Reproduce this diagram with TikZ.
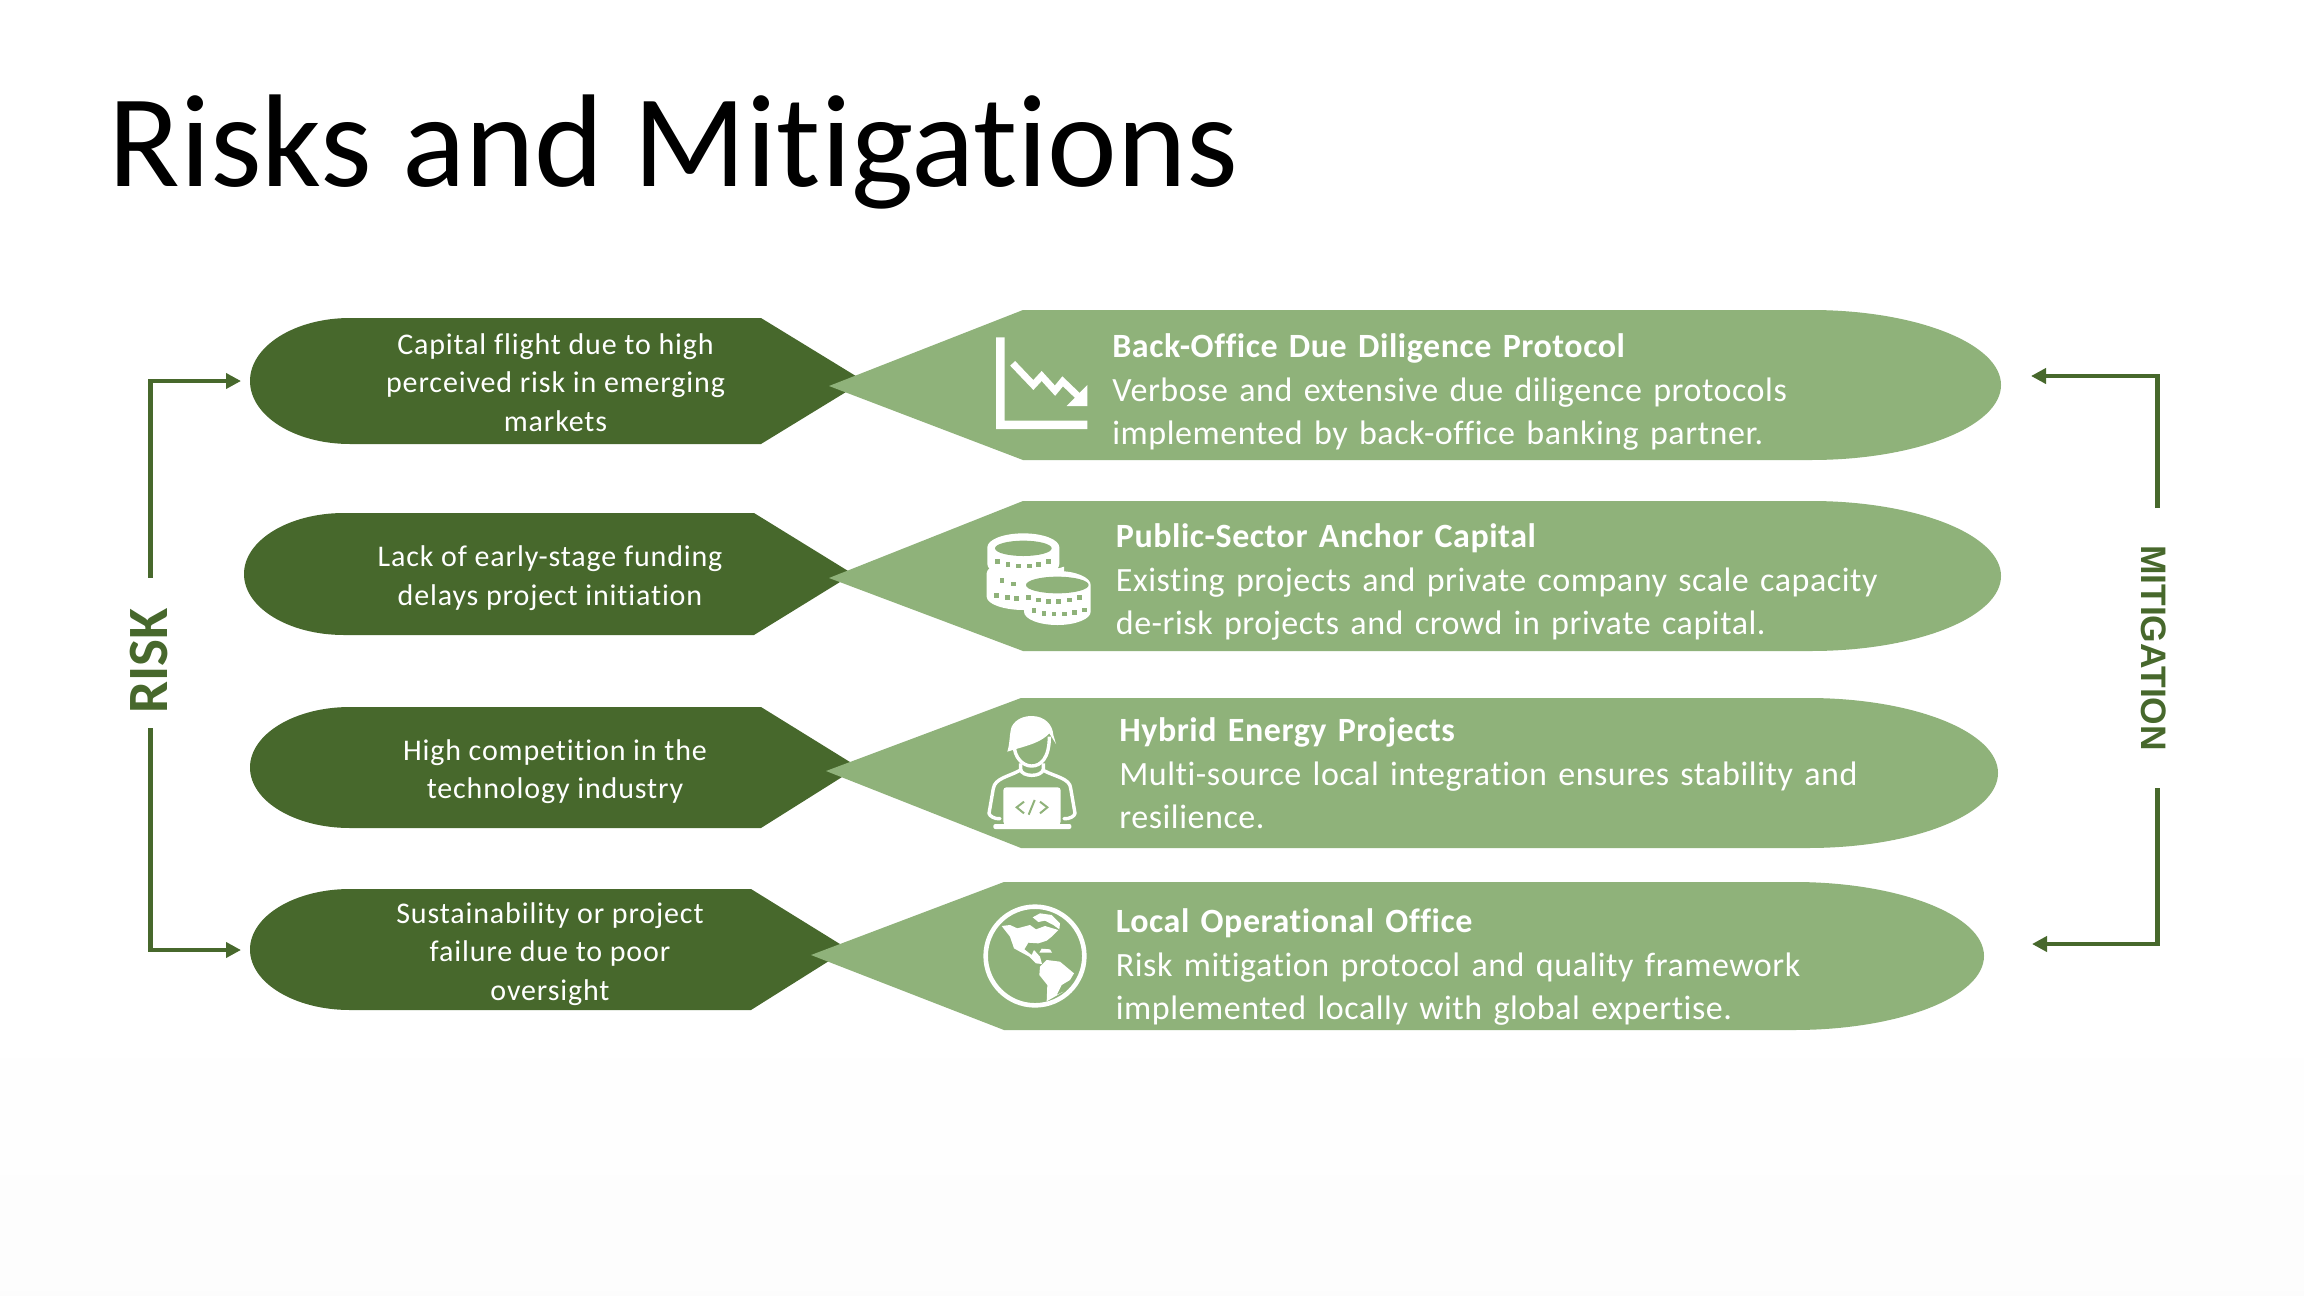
\documentclass[tikz,border=0pt]{standalone}
\usepackage{fontspec}
\setmainfont[Ligatures=NoCommon]{Carlito}
\newfontfamily\bodyf[LetterSpace=1.6,Ligatures=NoCommon]{Carlito}
\newfontfamily\darkf[LetterSpace=2.9,Ligatures=NoCommon]{Carlito}
\newfontfamily\mitf{Liberation Sans}
\usetikzlibrary{arrows.meta,calc}
\definecolor{darkg}{HTML}{47682C}
\definecolor{lightg}{HTML}{8FB27A}
\tikzset{
  darkshape/.style={fill=darkg,draw=none},
  lightshape/.style={fill=lightg,draw=none},
  risktext/.style={text=white,align=center,font=\darkf\fontsize{15}{19.15}\selectfont,inner sep=0pt},
  mittext/.style={text=white,align=left,anchor=north west,font=\bodyf\fontsize{17}{21.75}\selectfont,inner sep=0pt,text width=480pt},
  conn/.style={draw=darkg,line width=2.25pt,line join=miter,-{Triangle[length=7.5pt,width=7.5pt]}},
  iconw/.style={fill=white,draw=none},
  icong/.style={fill=lightg,draw=none},
}
% left, top, bottom, corner, tipx, tipy
\newcommand{\darkpill}[6]{%
  \path[darkshape] ({#1+100},#2) -- (#4,#2) -- (#5,#6) -- (#4,#3) -- ({#1+100},#3)
    arc[start angle=90,end angle=270,x radius=100,y radius={(#3-#2)/2}] -- cycle;}
% tipx,tipy,corner,top,bottom,right
\newcommand{\lightpill}[6]{%
  \path[lightshape] (#1,#2) -- (#3,#4) -- ({#6-190},#4)
    arc[start angle=-90,end angle=90,x radius=190,y radius={(#5-#4)/2}] -- (#3,#5) -- cycle;}
\begin{document}
\begin{tikzpicture}[x=0.5pt,y=-0.5pt]
\useasboundingbox (0,0) rectangle (2304,1296);
\fill[white] (0,0) rectangle (2304,1296);
\shade[top color=white,bottom color=black!1!white,draw=none] (0,1000) rectangle (2304,1296);

\node[anchor=base west,inner sep=0pt,font=\fontsize{66}{78}\selectfont,text=black] (title) at (108,186) {Risks and Mitigations};

% dark shapes
\darkpill{250}{318}{444}{761}{864}{381}
\darkpill{244}{513}{635}{754}{853}{574}
\darkpill{250}{707}{828}{761}{858}{767}
\darkpill{250}{889}{1010}{751}{848}{949}
% light shapes
\lightpill{829}{386}{1023}{310}{460}{2001}
\lightpill{829}{578}{1023}{501}{651}{2001}
\lightpill{826}{771}{1021}{698}{848}{1998}
\lightpill{811}{955}{1004}{882}{1030}{1984}

% risk text
\node[risktext] (r1) at (555.5,382.5) {Capital flight due to high\\perceived risk in emerging\\markets};
\node[risktext] (r2) at (550,578) {Lack of early-stage funding\\delays project initiation};
\node[risktext] (r3) at (555,772) {High competition in the\\technology industry};
\node[risktext] (r4) at (550,954) {Sustainability or project\\failure due to poor\\oversight};

% mitigation text
\node[mittext] (m1) at (1112,333.5) {\textbf{Back-Office Due Diligence Protocol}\\Verbose and extensive due diligence protocols\\implemented by back-office banking partner.};
\node[mittext] (m2) at (1115.5,523.5) {\textbf{Public-Sector Anchor Capital}\\Existing projects and private company scale capacity\\de-risk projects and crowd in private capital.};
\node[mittext] (m3) at (1119,717.5) {\textbf{Hybrid Energy Projects}\\Multi-source local integration ensures stability and\\resilience.};
\node[mittext] (m4) at (1115.5,908.5) {\textbf{Local Operational Office}\\Risk mitigation protocol and quality framework\\implemented locally with global expertise.};

% side labels
\node[rotate=90,inner sep=0pt,text=darkg,font=\fontsize{28.5}{30}\selectfont\bfseries] (risk) at (149.5,661) {RISK};
\node[rotate=-90,inner sep=0pt,text=darkg,font=\mitf\fontsize{17.7}{20}\selectfont\bfseries] (mitigation) at (2154,648) {MITIGATION};

\coordinate (rt) at (150.7,577.6);
\coordinate (rb) at (150.7,728);
\coordinate (rtopc) at (150.7,381);
\coordinate (rbotc) at (150.7,950);
\coordinate (rtoptip) at (241,381);
\coordinate (rbottip) at (241,950);
\coordinate (mt) at (2157.7,508);
\coordinate (mb) at (2157.7,788);
\coordinate (mtopc) at (2157.7,376);
\coordinate (mbotc) at (2157.7,944);
\coordinate (mtoptip) at (2031,376);
\coordinate (mbottip) at (2032,944);
\draw[conn] (rt) -- (rtopc) -- (rtoptip);
\draw[conn] (rb) -- (rbotc) -- (rbottip);
\draw[conn] (mt) -- (mtopc) -- (mtoptip);
\draw[conn] (mb) -- (mbotc) -- (mbottip);

% chart icon
\begin{scope}[shift={(980,320)},x=0.16667pt,y=-0.16667pt]
 \fill[iconw] (48,52) -- (74,52) -- (74,302) -- (322,302) -- (322,327) -- (48,327) -- cycle;
 \draw[white,line width=3.4pt,line join=miter] (98,130) -- (160,195) -- (185,168) -- (225,212) -- (248,184) -- (298,232);
 \fill[iconw] (322,195) -- (322,258) -- (260,258) -- cycle;
\end{scope}

% coins icon
\newcommand{\coin}[5]{% cx top rx ry h
  \fill[iconw] ({#1-#3},#2) arc[start angle=180,end angle=360,x radius=#3,y radius=#4]
     -- ({#1+#3},{#2+#5}) arc[start angle=0,end angle=180,x radius=#3,y radius=#4] -- cycle;}
\begin{scope}[shift={(970,520)},x=0.16667pt,y=-0.16667pt]
 \coin{162}{160}{112}{40}{70}
 \fill[iconw] (60,130) -- (70,150) -- (250,150) -- (282,140) -- (282,170) -- (60,170) -- cycle;
 \coin{160}{82}{108}{42}{50}
 \fill[icong] (160,85) ellipse[x radius=85,y radius=23];
 \foreach \x/\y in {82/124,114/134,146/138,178/138,206/134,236/125}{\fill[icong] (\x-7,\y-7) rectangle (\x+7,\y+7);}
 \foreach \x/\y in {96/182,130/192}{\fill[icong] (\x-7,\y-7) rectangle (\x+7,\y+7);}
 \foreach \x/\y in {80/226,112/232,140/236}{\fill[icong] (\x-7,\y-7) rectangle (\x+7,\y+7);}
 % right stack
 \fill[iconw] (162,195) arc[start angle=180,end angle=360,x radius=100,y radius=42] -- (362,275) arc[start angle=0,end angle=180,x radius=100,y radius=40] -- cycle;
 \fill[icong] (262,195) ellipse[x radius=94,y radius=25];
 \foreach \x/\y in {176/232,206/240,236/244,266/244,298/240,328/232,192/272,222/280,252/282,284/282,314/278,344/270}{\fill[icong] (\x-7,\y-7) rectangle (\x+7,\y+7);}
\end{scope}

% person icon
\begin{scope}[shift={(930,680)},x=0.16667pt,y=-0.16667pt]
 % face outline
 \draw[white,line width=1.7pt] (252,190) .. controls (252,235) and (280,258) .. (305,258) .. controls (332,258) and (358,235) .. (358,170);
 % hair
 \fill[iconw] (232,215) .. controls (240,190) and (238,160) .. (245,140) .. controls (258,115) and (285,108) .. (305,108) .. controls (345,108) and (368,135) .. (370,165) -- (378,192) -- (358,160) .. controls (335,185) and (300,195) .. (258,207) -- cycle;
 % neck and collar
 \draw[white,line width=1.7pt] (272,250) -- (272,268) .. controls (275,292) and (335,292) .. (340,268) -- (340,250);
 % shoulders and arms
 \draw[white,line width=1.7pt,line cap=round,line join=round] (268,272) .. controls (235,290) and (195,295) .. (190,325) -- (177,400) .. controls (178,408) and (195,418) .. (210,416);
 \draw[white,line width=1.7pt,line cap=round,line join=round] (342,272) .. controls (375,290) and (420,295) .. (422,325) -- (435,400) .. controls (434,408) and (418,418) .. (402,416);
 % laptop
 \fill[iconw,rounded corners=1.5pt] (220,322) rectangle (392,434);
 \fill[iconw,rounded corners=1pt] (190,432) rectangle (424,447);
 \draw[lightg,line width=1pt] (282,365) -- (260,382) -- (282,400);
 \draw[lightg,line width=1pt] (330,365) -- (352,382) -- (330,400);
 \draw[lightg,line width=1pt] (314,360) -- (296,404);
\end{scope}

% globe icon
\begin{scope}[shift={(930,680)},x=0.16667pt,y=-0.16667pt]
 \draw[white,line width=2.3pt] (315,828) ellipse[x radius=148,y radius=148];
 \fill[iconw] (308,712) -- (330,700) -- (365,705) -- (390,730) -- (388,748) -- (370,735) -- (345,722) -- (325,726) -- cycle;
 \fill[iconw] (215,738) -- (240,735) -- (262,745) -- (300,735) -- (318,748) -- (345,738) -- (385,750) -- (365,770) -- (350,782) -- (325,790) -- (295,788) -- (283,808) -- (305,825) -- (312,810) -- (330,830) -- (336,852) -- (318,850) -- (298,830) -- (270,815) -- (252,805) -- (240,770) -- cycle;
 \fill[iconw] (328,818) -- (366,818) -- (360,808) -- (335,806) -- cycle;
 \fill[iconw] (330,860) -- (350,840) -- (390,845) -- (432,880) -- (420,900) -- (395,915) -- (380,945) -- (400,935) -- (350,964) -- (352,915) -- (328,885) -- cycle;
\end{scope}
\end{tikzpicture}
\end{document}
